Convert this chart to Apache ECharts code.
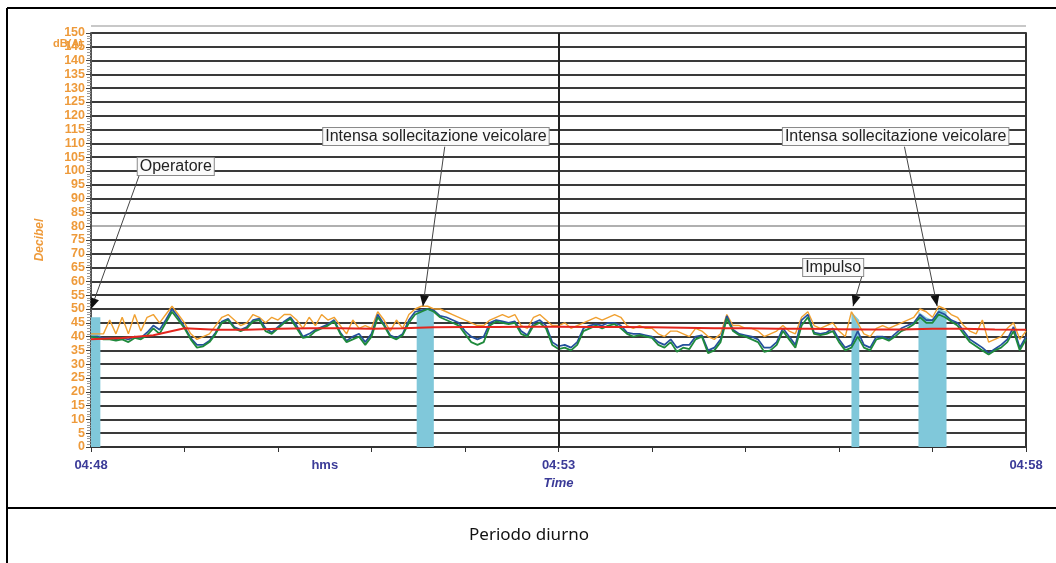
<!DOCTYPE html>
<html><head><meta charset="utf-8">
<script src="https://cdn.jsdelivr.net/npm/echarts@6/dist/echarts.min.js"></script>
<style>html,body{margin:0;padding:0;background:#fff}#c{width:1056px;height:563px}</style>
</head><body><div id="c"></div>
<script>
// ---- data (seconds from 04:48:00, 4 s step) ----
const STEP = 4;
const green = [40,39.5,39,39,38.5,39,38,39.5,39,40.5,43,41,45,49,46,43,39,36,36.5,38,41,45,46,43,42,43,45.5,46,42,41,43,45,46.5,43,39.5,40,42,43,44,45.5,41,38,39,40,37,40,47,44,40,39,40.5,45,48,49,50,49,47,46,45,44,41,38,37,38,44,45.5,45,44.5,45,41,40,44,45,43,37,35.5,36,35,37,42,43,44,43,44,44.5,43,41,40,40.5,40,39.5,37,36,38,34.5,36,35.5,39,40,34,35,38,46.5,42,40.5,40,39,38,34.5,35,37,42,39,36,44,47,41,40.5,41,42,38,35,36,40,36,35,39,39.5,38.5,40,42,43,44.5,47,45,45,48,47,45.5,44,41,38,36.5,35,33.5,35,36,38,42,35,39];
const blue  = [40,40,39.5,39.5,39,39.5,39,40,39.5,41.5,44,42.5,46,50,47,43.5,39.5,37,37,38.5,41.5,45.5,46.5,43.5,42.5,43.5,46,46.5,43,41.5,43.5,45.5,47,44,40,41,42.5,43.5,44.5,46,41.5,38.5,40,41,38,41,48,44.5,40.5,39.5,41,46,49,49.5,50,49.5,47.5,47,46,45,42,40,39,40,45,46,45.5,45,45.5,42,40.5,45,46,44,38,36.5,37,36,38,43,44,44.5,44,45,45,44,41.5,41,41,40.5,40,38,37,39,36,37,37,40,40.5,35,36,39,47.5,42.5,41,40.5,40,39,36,36,38,43,40,37,46,48,41.5,41,41.5,43,39,36,37,42,37,36,40,40,39,41,43,44,45,48,46,46,49,48,46,45,42,39,37.5,36,34,35.5,37,39,43.5,36,40];
const orange= [41,41,41,46,41,47,41,48,42,47,48,45,48,51,48,45,41,39,40,41,44,47,48,46,44,45,48,47,45,47,46,48,48,46,43,47,44,48,46,47,44,41,46,43,44,43,49,46,42,46,43,48,50,51,51,50,50,49,48,47,46,45,44,44,46,47,48,47,48,44,43,47,48,46,44,44,45,43,44,45,46,47,46,47,48,47,44,43,44,43,43,41,40,42,42,41,40,43,42,40,39,41,48,44,44,43,43,42,40,41,42,44,42,41,47,49,44,43,44,45,42,40,49,45,41,40,43,44,43,44,45,46,47,50,49,47,51,50,48,47,44,42,41,46,38,39,40,43,45,39,42];
const redStep = 20;
const red = [39,39.5,40.5,43,42.5,42.5,42.8,43,43,42.8,43,43.4,43.5,43.5,43.6,43.6,43.5,43.5,43.4,43.2,43,43,42.8,42.8,42.7,42.6,42.6,42.8,42.8,42.6,42.5];
// masked (excluded) intervals
const maskT = [[0,6],[209,212,216,220],[488,493],[531,536,540,544,549]];
const maskV = [[47,47],[49,50,50,49],[49,46],[49,47,46,50,49]];
// axis labels
const xLabelPos = [0,150,300,600];
const xLabelText = ['04:48','hms','04:53','04:58'];
// annotations: box anchor (t, v), arrow start (t, v), arrow tip (t, v)
const annText = ['Operatore','Intensa sollecitazione veicolare','Impulso','Intensa sollecitazione veicolare'];
const annBox  = [[30,101.6],[149,112.5],[457,65],[444,112.5]];
const annFrom = [[31,98.5],[227,108.8],[495,62.5],[522,108.8]];
const annTo   = [[0,50],[213,51],[489,51],[543,51]];

const ORANGE_TXT = '#EE9A3A', BLUE_TXT = '#3B3B98';
const pair = (arr, step) => arr.map((v,i)=>[i*step, v]);

const chart = echarts.init(document.getElementById('c'));
const splitColors = [];
for (let v = 0; v <= 150; v += 5) splitColors.push(v === 80 ? '#b0b0b0' : '#3a3a3a');

const maskSeries = maskT.map((ts, k) => ({
  type:'line', data: ts.map((t,i)=>[t, maskV[k][i]]), symbol:'none', silent:true,
  lineStyle:{width:0}, areaStyle:{color:'#80C8DA', opacity:1}, z:1
}));

chart.setOption({
  animation:false,
  grid:{left:91, right:30, top:33, bottom:116},
  xAxis:{type:'value', min:0, max:600, interval:60,
    axisLine:{show:true, lineStyle:{color:'#333', width:2}},
    axisTick:{show:true, length:5, lineStyle:{color:'#333'}},
    axisLabel:{customValues:xLabelPos, formatter:v=>xLabelText[xLabelPos.indexOf(v)] ?? '',
      color:BLUE_TXT, fontWeight:'bold', fontSize:13, fontFamily:'Liberation Sans', margin:12},
    splitLine:{show:false},
    name:'Time', nameLocation:'middle', nameGap:29,
    nameTextStyle:{color:BLUE_TXT, fontStyle:'italic', fontWeight:'bold', fontSize:13, fontFamily:'Liberation Sans'}
  },
  yAxis:[{type:'value', min:0, max:150, interval:5,
    axisLine:{show:true, lineStyle:{color:'#555', width:2}},
    axisTick:{show:true, length:5, lineStyle:{color:'#444'}},
    minorTick:{show:true, splitNumber:5, length:4, lineStyle:{color:'#999'}},
    axisLabel:{color:ORANGE_TXT, fontWeight:'bold', fontSize:12.5, fontFamily:'Liberation Sans', margin:6},
    splitLine:{show:true, lineStyle:{color:splitColors, width:1.8}},
    name:'Decibel', nameLocation:'middle', nameGap:45, nameRotate:90,
    nameTextStyle:{color:ORANGE_TXT, fontStyle:'italic', fontWeight:'bold', fontSize:12, fontFamily:'Liberation Sans'}
  },{type:'value', min:0, max:150, position:'right',
    axisLine:{show:true, lineStyle:{color:'#333', width:2}}, axisTick:{show:false}, axisLabel:{show:false}, splitLine:{show:false}}],
  series:[
    ...maskSeries,
    {type:'line', data:pair(orange,STEP), symbol:'none', lineStyle:{color:'#F0A030', width:1.4}, z:2},
    {type:'line', data:pair(blue,STEP), symbol:'none', lineStyle:{color:'#24509C', width:1.7}, z:3},
    {type:'line', data:pair(green,STEP), symbol:'none', lineStyle:{color:'#1F8A3C', width:1.8}, z:4},
    {type:'line', data:pair(red,redStep), symbol:'none', lineStyle:{color:'#E3261E', width:2}, z:5,
      markLine:{silent:true, symbol:'none', label:{show:false}, data:[{xAxis:300}], lineStyle:{color:'#222', width:2, type:'solid'}}}
  ]
});

function drawExtras(){
  const P = p => chart.convertToPixel({xAxisIndex:0, yAxisIndex:0}, p);
  const g = [];
  // document frame
  const frame = {stroke:'#000', lineWidth:2};
  g.push({type:'line', shape:{x1:7,y1:8,x2:1056,y2:8}, style:frame});
  g.push({type:'line', shape:{x1:7,y1:8,x2:7,y2:563}, style:frame});
  g.push({type:'line', shape:{x1:7,y1:508,x2:1056,y2:508}, style:frame});
  g.push({type:'text', x:529, y:535, style:{text:'Periodo diurno', font:'17px "Noto Sans"', fill:'#111', align:'center', verticalAlign:'middle'}});
  // light top frame of plot
  const tl = P([0,150]), tr = P([600,150]);
  g.push({type:'line', shape:{x1:tl[0],y1:tl[1]-7,x2:tr[0],y2:tr[1]-7}, style:{stroke:'#c8c8c8', lineWidth:2}});
  // unit label
  const u = P([0,146]);
  g.push({type:'text', x:u[0]-8, y:u[1], style:{text:'dB(A)', font:'bold 11px "Liberation Sans"', fill:ORANGE_TXT, align:'right', verticalAlign:'middle'}});
  // annotations
  annText.forEach((txt,i)=>{
    const a = P(annFrom[i]), b = P(annTo[i]), box = P(annBox[i]);
    g.push({type:'line', shape:{x1:a[0],y1:a[1],x2:b[0],y2:b[1]}, style:{stroke:'#444', lineWidth:1}, z:50});
    const dx=b[0]-a[0], dy=b[1]-a[1], L=Math.hypot(dx,dy), ux=dx/L, uy=dy/L;
    const bx=b[0]-ux*11, by=b[1]-uy*11;
    g.push({type:'polygon', shape:{points:[[b[0],b[1]],[bx-uy*4.5,by+ux*4.5],[bx+uy*4.5,by-ux*4.5]]}, style:{fill:'#111'}, z:51});
    g.push({type:'text', x:box[0], y:box[1], z:52, style:{text:txt, font:'16px "Liberation Sans"', fill:'#222',
      align:'left', verticalAlign:'middle', backgroundColor:'#fafafa', borderColor:'#8a8a8a', borderWidth:1, padding:[1,2,0,2]}});
  });
  chart.setOption({graphic:g});
}
drawExtras();
</script>
</body></html>
